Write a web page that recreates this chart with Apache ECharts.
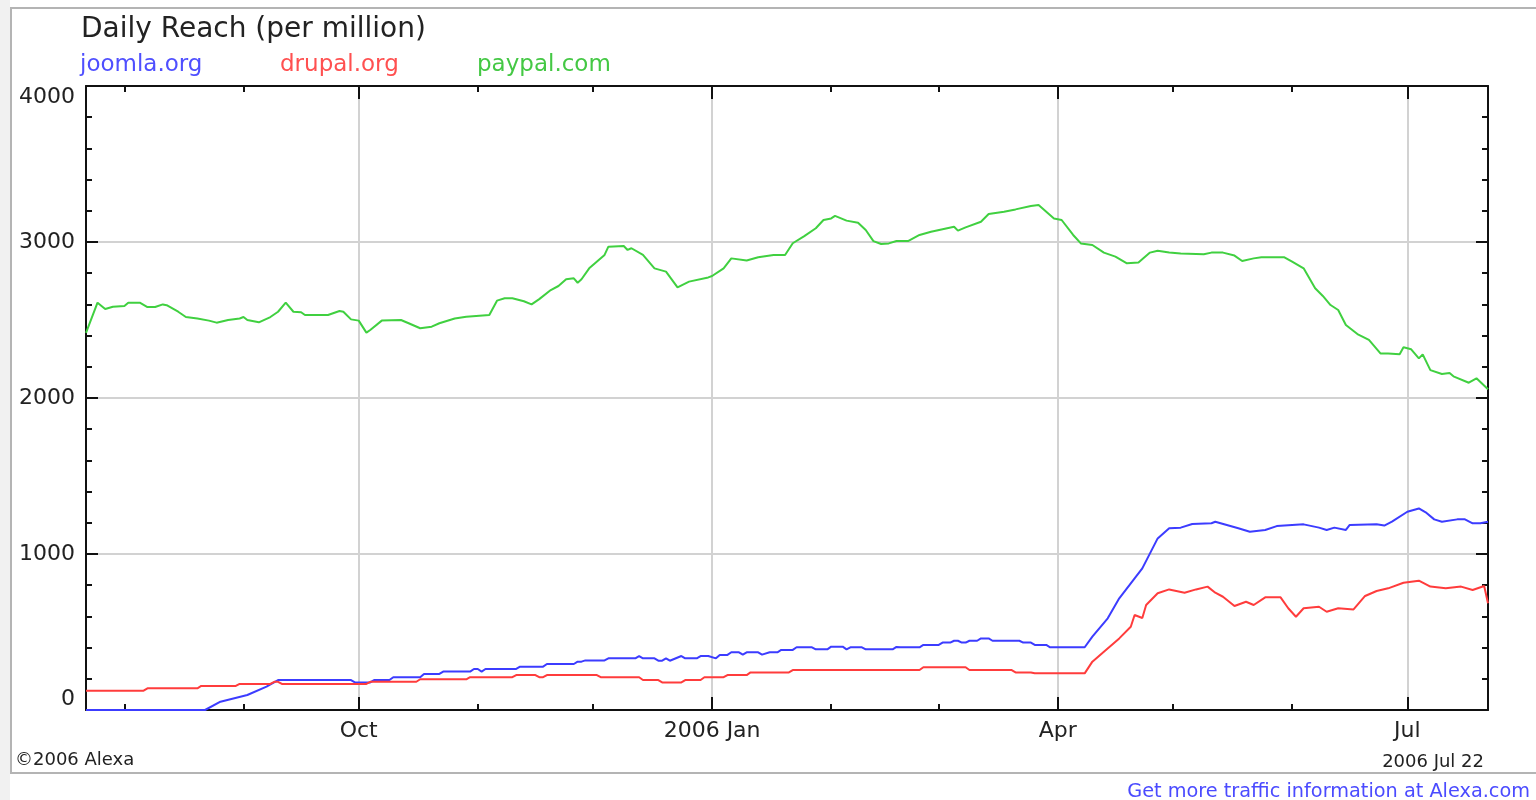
<!DOCTYPE html>
<html>
<head>
<meta charset="utf-8">
<title>Daily Reach (per million)</title>
<script src="https://cdn.jsdelivr.net/npm/echarts@6/dist/echarts.min.js"></script>
<style>
  html, body { margin: 0; padding: 0; background: #fff; }
  #chart { width: 1536px; height: 800px; }
</style>
</head>
<body>
<div id="chart"></div>
<script>
const FONT = "DejaVu Sans";
const RANGE_START = "2005-07-22";
const RANGE_END = "2006-07-22";

const seriesNames = ["joomla.org", "drupal.org", "paypal.com"];
const lineColors = ["#3c3cff", "#ff3c3c", "#40d040"];
const legendColors = ["#4f4fff", "#ff5050", "#44c844"];

const quarterDates = ["2005-10-01", "2006-01-01", "2006-04-01", "2006-07-01"];
const quarterLabels = ["Oct", "2006 Jan", "Apr", "Jul"];
const monthDates = ["2005-08-01", "2005-09-01", "2005-10-01", "2005-11-01", "2005-12-01", "2006-01-01",
  "2006-02-01", "2006-03-01", "2006-04-01", "2006-05-01", "2006-06-01", "2006-07-01"];

const joomla = [
  ["2005-07-22", 0], ["2005-08-22", 0], ["2005-08-26", 53], ["2005-09-02", 96], ["2005-09-07", 150],
  ["2005-09-10", 192], ["2005-09-29", 192], ["2005-09-30", 177], ["2005-10-04", 177], ["2005-10-05", 192],
  ["2005-10-09", 192], ["2005-10-10", 210], ["2005-10-17", 210], ["2005-10-18", 231], ["2005-10-22", 231],
  ["2005-10-23", 246], ["2005-10-30", 246], ["2005-10-31", 263], ["2005-11-01", 263], ["2005-11-02", 246],
  ["2005-11-03", 263], ["2005-11-11", 263], ["2005-11-12", 278], ["2005-11-18", 278], ["2005-11-19", 295],
  ["2005-11-26", 295], ["2005-11-27", 310], ["2005-11-28", 310], ["2005-11-29", 318], ["2005-12-04", 318],
  ["2005-12-05", 331], ["2005-12-12", 331], ["2005-12-13", 346], ["2005-12-14", 331], ["2005-12-17", 331],
  ["2005-12-18", 316], ["2005-12-19", 316], ["2005-12-20", 331], ["2005-12-21", 316], ["2005-12-24", 346],
  ["2005-12-25", 331], ["2005-12-28", 331], ["2005-12-29", 346], ["2005-12-31", 346], ["2006-01-02", 331],
  ["2006-01-03", 353], ["2006-01-05", 353], ["2006-01-06", 370], ["2006-01-08", 370], ["2006-01-09", 355],
  ["2006-01-10", 370], ["2006-01-13", 370], ["2006-01-14", 355], ["2006-01-16", 370], ["2006-01-18", 370],
  ["2006-01-19", 385], ["2006-01-22", 385], ["2006-01-23", 402], ["2006-01-27", 402], ["2006-01-28", 389],
  ["2006-01-31", 389], ["2006-02-01", 406], ["2006-02-04", 406], ["2006-02-05", 389], ["2006-02-06", 402],
  ["2006-02-09", 402], ["2006-02-10", 389], ["2006-02-17", 389], ["2006-02-18", 404], ["2006-02-19", 402],
  ["2006-02-24", 402], ["2006-02-25", 417], ["2006-03-01", 417], ["2006-03-02", 432], ["2006-03-04", 432],
  ["2006-03-05", 444], ["2006-03-06", 444], ["2006-03-07", 432], ["2006-03-08", 432], ["2006-03-09", 444],
  ["2006-03-11", 444], ["2006-03-12", 459], ["2006-03-14", 459], ["2006-03-15", 444], ["2006-03-22", 444],
  ["2006-03-23", 432], ["2006-03-25", 432], ["2006-03-26", 417], ["2006-03-29", 417], ["2006-03-30", 402],
  ["2006-04-08", 402], ["2006-04-10", 470], ["2006-04-14", 588], ["2006-04-17", 716], ["2006-04-21", 844],
  ["2006-04-23", 908], ["2006-04-25", 1004], ["2006-04-27", 1100], ["2006-04-30", 1165], ["2006-05-03", 1169],
  ["2006-05-06", 1192], ["2006-05-11", 1197], ["2006-05-12", 1207], ["2006-05-15", 1186], ["2006-05-18", 1165],
  ["2006-05-21", 1143], ["2006-05-25", 1154], ["2006-05-28", 1179], ["2006-06-04", 1190], ["2006-06-08", 1169],
  ["2006-06-10", 1154], ["2006-06-12", 1169], ["2006-06-15", 1154], ["2006-06-16", 1186], ["2006-06-23", 1190],
  ["2006-06-25", 1182], ["2006-06-27", 1207], ["2006-07-01", 1271], ["2006-07-04", 1292], ["2006-07-06", 1263],
  ["2006-07-08", 1222], ["2006-07-10", 1207], ["2006-07-14", 1222], ["2006-07-16", 1222], ["2006-07-18", 1197],
  ["2006-07-20", 1197], ["2006-07-22", 1207]
];

const drupal = [
  ["2005-07-22", 124], ["2005-08-06", 124], ["2005-08-07", 139], ["2005-08-20", 139], ["2005-08-21", 154],
  ["2005-08-30", 154], ["2005-08-31", 167], ["2005-09-08", 167], ["2005-09-09", 181], ["2005-09-10", 181],
  ["2005-09-11", 167], ["2005-10-03", 167], ["2005-10-04", 181], ["2005-10-16", 181], ["2005-10-17", 197],
  ["2005-10-29", 197], ["2005-10-30", 210], ["2005-11-10", 210], ["2005-11-11", 224], ["2005-11-16", 224],
  ["2005-11-17", 210], ["2005-11-18", 210], ["2005-11-19", 224], ["2005-12-02", 224], ["2005-12-03", 210],
  ["2005-12-13", 210], ["2005-12-14", 192], ["2005-12-18", 192], ["2005-12-19", 177], ["2005-12-24", 177],
  ["2005-12-25", 192], ["2005-12-29", 192], ["2005-12-30", 210], ["2006-01-04", 210], ["2006-01-05", 224],
  ["2006-01-10", 224], ["2006-01-11", 241], ["2006-01-21", 241], ["2006-01-22", 256], ["2006-02-24", 256],
  ["2006-02-25", 274], ["2006-03-08", 274], ["2006-03-09", 256], ["2006-03-20", 256], ["2006-03-21", 241],
  ["2006-03-25", 241], ["2006-03-26", 235], ["2006-04-08", 235], ["2006-04-10", 310], ["2006-04-13", 374],
  ["2006-04-17", 459], ["2006-04-20", 534], ["2006-04-21", 609], ["2006-04-23", 590], ["2006-04-24", 673],
  ["2006-04-27", 748], ["2006-04-30", 773], ["2006-05-04", 752], ["2006-05-07", 773], ["2006-05-10", 791],
  ["2006-05-12", 752], ["2006-05-14", 726], ["2006-05-17", 667], ["2006-05-20", 694], ["2006-05-22", 673],
  ["2006-05-25", 722], ["2006-05-29", 722], ["2006-05-31", 652], ["2006-06-02", 598], ["2006-06-04", 652],
  ["2006-06-08", 662], ["2006-06-10", 630], ["2006-06-13", 652], ["2006-06-17", 645], ["2006-06-20", 731],
  ["2006-06-23", 763], ["2006-06-26", 780], ["2006-06-30", 816], ["2006-07-04", 829], ["2006-07-07", 791],
  ["2006-07-11", 780], ["2006-07-15", 791], ["2006-07-18", 769], ["2006-07-21", 795], ["2006-07-22", 684]
];

const paypal = [
  ["2005-07-22", 2417], ["2005-07-25", 2611], ["2005-07-27", 2570], ["2005-07-29", 2585], ["2005-08-01", 2590],
  ["2005-08-02", 2611], ["2005-08-05", 2611], ["2005-08-07", 2583], ["2005-08-09", 2583], ["2005-08-11", 2600],
  ["2005-08-12", 2595], ["2005-08-15", 2553], ["2005-08-17", 2519], ["2005-08-20", 2510], ["2005-08-23", 2496],
  ["2005-08-25", 2483], ["2005-08-28", 2500], ["2005-08-31", 2510], ["2005-09-01", 2519], ["2005-09-02", 2500],
  ["2005-09-05", 2485], ["2005-09-08", 2519], ["2005-09-10", 2553], ["2005-09-12", 2611], ["2005-09-14", 2553],
  ["2005-09-16", 2550], ["2005-09-17", 2532], ["2005-09-23", 2532], ["2005-09-26", 2558], ["2005-09-27", 2553],
  ["2005-09-29", 2504], ["2005-10-01", 2496], ["2005-10-03", 2419], ["2005-10-04", 2436], ["2005-10-07", 2496],
  ["2005-10-12", 2500], ["2005-10-14", 2479], ["2005-10-17", 2447], ["2005-10-20", 2457], ["2005-10-22", 2479],
  ["2005-10-26", 2510], ["2005-10-29", 2521], ["2005-11-04", 2532], ["2005-11-06", 2624], ["2005-11-08", 2639],
  ["2005-11-10", 2639], ["2005-11-13", 2620], ["2005-11-15", 2600], ["2005-11-17", 2634], ["2005-11-20", 2692],
  ["2005-11-22", 2718], ["2005-11-24", 2761], ["2005-11-26", 2767], ["2005-11-27", 2739], ["2005-11-28", 2761],
  ["2005-11-30", 2831], ["2005-12-04", 2917], ["2005-12-05", 2970], ["2005-12-09", 2974], ["2005-12-10", 2949],
  ["2005-12-11", 2960], ["2005-12-14", 2917], ["2005-12-17", 2831], ["2005-12-20", 2810], ["2005-12-23", 2709],
  ["2005-12-26", 2746], ["2005-12-31", 2773], ["2006-01-01", 2782], ["2006-01-04", 2831], ["2006-01-06", 2895],
  ["2006-01-10", 2881], ["2006-01-13", 2902], ["2006-01-17", 2917], ["2006-01-20", 2917], ["2006-01-22", 2992],
  ["2006-01-25", 3038], ["2006-01-28", 3088], ["2006-01-30", 3141], ["2006-02-01", 3151], ["2006-02-02", 3167],
  ["2006-02-05", 3137], ["2006-02-08", 3124], ["2006-02-10", 3077], ["2006-02-12", 3006], ["2006-02-14", 2987],
  ["2006-02-16", 2991], ["2006-02-18", 3006], ["2006-02-21", 3006], ["2006-02-24", 3045], ["2006-02-27", 3066],
  ["2006-03-05", 3098], ["2006-03-06", 3073], ["2006-03-08", 3094], ["2006-03-12", 3130], ["2006-03-14", 3179],
  ["2006-03-18", 3194], ["2006-03-21", 3209], ["2006-03-25", 3231], ["2006-03-27", 3237], ["2006-03-31", 3151],
  ["2006-04-02", 3141], ["2006-04-05", 3045], ["2006-04-07", 2991], ["2006-04-10", 2981], ["2006-04-13", 2932],
  ["2006-04-16", 2906], ["2006-04-19", 2863], ["2006-04-22", 2868], ["2006-04-25", 2932], ["2006-04-27", 2944],
  ["2006-04-30", 2932], ["2006-05-03", 2927], ["2006-05-09", 2921], ["2006-05-11", 2932], ["2006-05-14", 2932],
  ["2006-05-17", 2913], ["2006-05-19", 2878], ["2006-05-22", 2895], ["2006-05-24", 2902], ["2006-05-30", 2902],
  ["2006-06-01", 2874], ["2006-06-04", 2831], ["2006-06-07", 2703], ["2006-06-09", 2654], ["2006-06-11", 2596],
  ["2006-06-13", 2564], ["2006-06-15", 2468], ["2006-06-18", 2410], ["2006-06-21", 2372], ["2006-06-24", 2286],
  ["2006-06-26", 2286], ["2006-06-29", 2280], ["2006-06-30", 2325], ["2006-07-02", 2312], ["2006-07-04", 2254],
  ["2006-07-05", 2280], ["2006-07-07", 2179], ["2006-07-10", 2154], ["2006-07-12", 2160], ["2006-07-13", 2139],
  ["2006-07-17", 2098], ["2006-07-19", 2126], ["2006-07-22", 2056]
];

// dates become day timestamps on a plain value axis (custom month ticks)
function ts(s) {
  return new Date(s + "T00:00:00").getTime();
}

const quarterTs = quarterDates.map(ts);
const monthTs = monthDates.map(ts);

const chart = echarts.init(document.getElementById("chart"));

function dateAxis(position, tickValues, tickLength, withLabels, withLine, withSplit) {
  return {
    type: "value",
    gridIndex: 0,
    position,
    min: ts(RANGE_START),
    max: ts(RANGE_END),
    axisLine: { show: withLine, onZero: false, lineStyle: { color: "#111", width: 2 } },
    axisTick: { show: true, inside: true, length: tickLength, customValues: tickValues, lineStyle: { color: "#111", width: 2 } },
    axisLabel: withLabels ? {
      show: true,
      customValues: quarterTs,
      formatter: value => {
        const i = quarterTs.indexOf(Number(value));
        return i >= 0 ? quarterLabels[i] : "";
      },
      fontFamily: FONT,
      fontSize: 22,
      color: "#222",
      margin: 10,
    } : { show: false },
    splitLine: { show: withSplit, lineStyle: { color: "#d2d2d2", width: 2 } },
  };
}

function valueAxis(position, withLabels) {
  return {
    type: "value",
    position,
    min: 0,
    max: 4000,
    interval: 1000,
    axisLine: { show: true, lineStyle: { color: "#111", width: 2 } },
    axisTick: { show: true, inside: true, length: 12, lineStyle: { color: "#111", width: 2 } },
    minorTick: { show: true, splitNumber: 5, length: 6, lineStyle: { color: "#111", width: 2 } },
    axisLabel: withLabels ? {
      show: true,
      formatter: value => String(value),
      fontFamily: FONT,
      fontSize: 22,
      color: "#222",
      margin: 11,
      verticalAlignMinLabel: "bottom",
      verticalAlignMaxLabel: "top",
    } : { show: false },
    splitLine: { show: withLabels, lineStyle: { color: "#d2d2d2", width: 2 } },
  };
}

const seriesData = [joomla, drupal, paypal];
const legendX = [80, 280, 477];

chart.setOption({
  animation: false,
  backgroundColor: "#fff",
  textStyle: { fontFamily: FONT },
  grid: { left: 86, top: 86, width: 1402, height: 624, containLabel: false },
  xAxis: [
    dateAxis("bottom", quarterTs, 13, true, true, true),
    dateAxis("bottom", monthTs, 6, false, false, false),
    dateAxis("top", quarterTs, 13, false, true, false),
    dateAxis("top", monthTs, 6, false, false, false),
  ],
  yAxis: [valueAxis("left", true), valueAxis("right", false)],
  series: seriesData.map((data, i) => ({
    name: seriesNames[i],
    type: "line",
    xAxisIndex: 0,
    yAxisIndex: 0,
    data: data.map(([d, v]) => [ts(d), v]),
    showSymbol: false,
    symbol: "none",
    lineStyle: { color: lineColors[i], width: 2 },
    itemStyle: { color: lineColors[i] },
  })),
  graphic: [
    { type: "rect", shape: { x: 11, y: 8, width: 1540, height: 765 }, style: { fill: "none", stroke: "#b4b4b4", lineWidth: 2 }, silent: true, z: -10 },
    { type: "rect", shape: { x: 0, y: 0, width: 10, height: 800 }, style: { fill: "#f1f1f1" }, silent: true, z: -10 },
    { type: "text", left: 81, top: 16, style: { text: "Daily Reach (per million)", fontFamily: FONT, fontSize: 28, fill: "#222" } },
    ...seriesNames.map((name, i) => ({
      type: "text", left: legendX[i], top: 54,
      style: { text: name, fontFamily: FONT, fontSize: 23, fill: legendColors[i] },
    })),
    { type: "text", left: 15, top: 751, style: { text: "©2006 Alexa", fontFamily: FONT, fontSize: 18, fill: "#222" } },
    { type: "text", right: 52, top: 753, style: { text: "2006 Jul 22", fontFamily: FONT, fontSize: 18, fill: "#222" } },
    { type: "text", right: 6, top: 782, style: { text: "Get more traffic information at Alexa.com", fontFamily: FONT, fontSize: 19.3, fill: "#4b4bff" } },
  ],
});

window.addEventListener("resize", () => chart.resize());
</script>
</body>
</html>
